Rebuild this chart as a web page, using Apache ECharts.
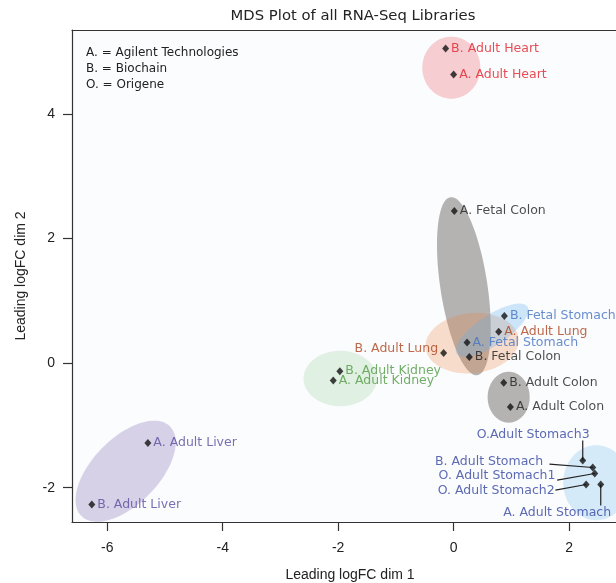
<!DOCTYPE html>
<html><head><meta charset="utf-8">
<script src="https://cdn.jsdelivr.net/npm/echarts@6/dist/echarts.min.js"></script>
<style>html,body{margin:0;padding:0;background:#fff}#c{width:616px;height:583px}</style>
</head><body><div id="c"></div>
<script>
// ---- data ----
const sampleNames = ['B. Adult Heart','A. Adult Heart','A. Fetal Colon','B. Fetal Stomach','A. Adult Lung',
  'A. Fetal Stomach','B. Fetal Colon','B. Adult Lung','B. Adult Kidney','A. Adult Kidney','B. Adult Colon',
  'A. Adult Colon','A. Adult Liver','B. Adult Liver','O.Adult Stomach3','B. Adult Stomach','O. Adult Stomach1',
  'O. Adult Stomach2','A. Adult Stomach'];
const dim1 = [-0.139, 0.000, 0.012, 0.879, 0.780, 0.232, 0.272, -0.173, -1.971, -2.085, 0.867, 0.983,
  -5.296, -6.267, 2.236, 2.409, 2.444, 2.295, 2.548];
const dim2 = [5.053, 4.636, 2.445, 0.759, 0.503, 0.332, 0.101, 0.165, -0.128, -0.278, -0.316, -0.702,
  -1.280, -2.269, -1.562, -1.675, -1.771, -1.948, -1.948];
const sampleGroup = ['heart','heart','fetalColon','fetalStomach','adultLung','fetalStomach','fetalColon',
  'adultLung','adultKidney','adultKidney','adultColon','adultColon','adultLiver','adultLiver',
  'adultStomach','adultStomach','adultStomach','adultStomach','adultStomach'];
// ellipses in data units: centre and two conjugate semi-axis vectors
const ellipseGroup = ['heart','fetalColon','adultLung','fetalStomach','adultColon','adultKidney','adultLiver','adultStomach'];
const ellipseCx = [-0.04, 0.177, 0.319, 0.666, 0.953, -1.964, -5.681, 2.470];
const ellipseCy = [4.745, 1.236, 0.321, 0.530, -0.546, -0.246, -1.734, -1.919];
const ellipseAx = [0.503, -0.233, 0.804, 0.614, 0.364, 0.636, 0.766, 0.572];
const ellipseAy = [0.000, 1.429, 0.079, 0.377, 0.000, 0.000, 0.721, 0.000];
const ellipseBx = [0.000, 0.403, 0.054, 0.1435, 0.000, 0.000, 0.407, 0.000];
const ellipseBy = [0.498, 0.056, -0.479, -0.201, 0.409, 0.445, -0.372, 0.602];
const xTicks = [-6, -4, -2, 0, 2];
const yTicks = [-2, 0, 2, 4];
const legendLines = ['A. = Agilent Technologies', 'B. = Biochain', 'O. = Origene'];
const titleText = 'MDS Plot of all RNA-Seq Libraries';
const xName = 'Leading logFC dim 1';
const yName = 'Leading logFC dim 2';

// ---- styles ----
const textColor = {heart:'#e2202b', fetalColon:'#1e1e1e', fetalStomach:'#4372c2', adultLung:'#ad421c',
  adultColon:'#1e1e1e', adultKidney:'#4f9a40', adultLiver:'#5a4b9e', adultStomach:'#3545a0'};
const fillColor = {heart:'rgba(228,26,28,0.2)', fetalColon:'rgba(110,105,100,0.5)', fetalStomach:'rgba(100,175,235,0.3)',
  adultLung:'rgba(235,125,55,0.25)', adultColon:'rgba(110,105,100,0.5)', adultKidney:'rgba(77,175,74,0.15)',
  adultLiver:'rgba(106,81,163,0.25)', adultStomach:'rgba(100,180,235,0.25)'};
const labelStyle = {
  'B. Adult Lung': {position:'left', distance:2, offset:[0,-4]},
  'O.Adult Stomach3': {position:'inside', offset:[-49.6,-25.3], align:'center'},
  'B. Adult Stomach': {position:'inside', offset:[-49.6,-5.6], align:'right'},
  'O. Adult Stomach1': {position:'inside', offset:[-39.3,2.4], align:'right'},
  'O. Adult Stomach2': {position:'inside', offset:[-31.5,6], align:'right'},
  'A. Adult Stomach': {position:'inside', offset:[-43.6,28.4], align:'center'}
};
const leaderLines = {
  'O.Adult Stomach3': [0,-20], 'B. Adult Stomach': [-43.3,-3.3], 'O. Adult Stomach1': [-37.6,6.7],
  'O. Adult Stomach2': [-30.7,5.7], 'A. Adult Stomach': [0,21]
};
const FONT = '"DejaVu Sans", sans-serif';
const AXFONT = '"Liberation Sans", Arial, sans-serif';
const axisCol = '#333';

const pointData = sampleNames.map((n, i) => {
  const ls = labelStyle[n] || {position:'right', distance:2};
  return {
    name: n, value: [dim1[i], dim2[i]],
    label: Object.assign({show:true, formatter: n, color: textColor[sampleGroup[i]],
      fontFamily: FONT, fontSize: 12.5}, ls)
  };
});
const ellipseData = ellipseGroup.map((g, i) => [ellipseCx[i], ellipseCy[i], ellipseAx[i], ellipseAy[i], ellipseBx[i], ellipseBy[i], i]);
const leaderData = sampleNames.map((n, i) => leaderLines[n] ? [dim1[i], dim2[i], i] : null).filter(d => d);

const chart = echarts.init(document.getElementById('c'), null, {renderer:'canvas'});
chart.setOption({
  animation: false,
  backgroundColor: '#ffffff',
  grid: {left: 72, top: 30, width: 556, height: 492, outerBoundsMode: 'none', containLabel: false,
    show: true, backgroundColor: '#fbfcfe', borderWidth: 0},
  xAxis: [{
    type: 'value', min: -6.61, max: 3.02, position: 'bottom',
    name: xName, nameLocation: 'middle', nameGap: 46,
    nameTextStyle: {fontFamily: AXFONT, fontSize: 14, color: '#222'},
    axisLine: {show: true, onZero: false, lineStyle: {color: axisCol, width: 1.2}},
    axisTick: {show: true, length: 9, customValues: xTicks, lineStyle: {color: axisCol, width: 1.2}},
    axisLabel: {customValues: xTicks, margin: 19, fontFamily: AXFONT, fontSize: 14, color: '#222'},
    splitLine: {show: false}
  }, {
    type: 'value', min: -6.61, max: 3.02, position: 'top',
    axisLine: {show: true, onZero: false, lineStyle: {color: axisCol, width: 1.2}},
    axisTick: {show: false}, axisLabel: {show: false}, splitLine: {show: false}
  }],
  yAxis: [{
    type: 'value', min: -2.55, max: 5.35, position: 'left',
    name: yName, nameLocation: 'middle', nameGap: 44,
    nameTextStyle: {fontFamily: AXFONT, fontSize: 14, color: '#222'},
    axisLine: {show: true, onZero: false, lineStyle: {color: axisCol, width: 1.2}},
    axisTick: {show: true, length: 9, customValues: yTicks, lineStyle: {color: axisCol, width: 1.2}},
    axisLabel: {customValues: yTicks, margin: 17, fontFamily: AXFONT, fontSize: 14, color: '#222'},
    splitLine: {show: false}
  }],
  graphic: [
    {type: 'text', x: 353, y: 16, style: {text: titleText, fontFamily: FONT, fontSize: 14.8,
      fill: '#222', align: 'center', verticalAlign: 'middle'}},
    ...legendLines.map((t, i) => ({type: 'text', x: 86, y: 53.3 + i * 15.9,
      style: {text: t, fontFamily: FONT, fontSize: 12, fill: '#222', align: 'left', verticalAlign: 'middle'}}))
  ],
  series: [{
    type: 'custom', z: 1, silent: true,
    data: ellipseData,
    encode: {x: 0, y: 1},
    renderItem: function (params, api) {
      const cx = api.value(0), cy = api.value(1), ax = api.value(2), ay = api.value(3), bx = api.value(4), by = api.value(5);
      const g = ellipseGroup[api.value(6)];
      const pts = [];
      for (let k = 0; k < 96; k++) {
        const t = k / 96 * Math.PI * 2;
        pts.push(api.coord([cx + ax * Math.cos(t) + bx * Math.sin(t), cy + ay * Math.cos(t) + by * Math.sin(t)]));
      }
      return {type: 'polygon', shape: {points: pts}, style: {fill: fillColor[g], stroke: null}};
    }
  }, {
    type: 'custom', z: 2, silent: true,
    data: leaderData,
    encode: {x: 0, y: 1},
    renderItem: function (params, api) {
      const p = api.coord([api.value(0), api.value(1)]);
      const off = leaderLines[sampleNames[api.value(2)]];
      return {type: 'line', shape: {x1: p[0], y1: p[1], x2: p[0] + off[0], y2: p[1] + off[1]},
        style: {stroke: '#222', lineWidth: 1.2}};
    }
  }, {
    type: 'scatter', z: 3, silent: true,
    symbol: 'diamond', symbolSize: [7, 8],
    itemStyle: {color: '#111'},
    data: pointData
  }]
});
</script>
</body></html>
